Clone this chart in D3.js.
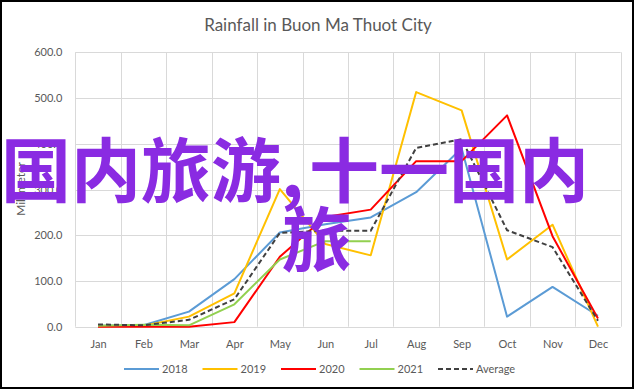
<!DOCTYPE html>
<html>
<head>
<meta charset="utf-8">
<script src="https://cdn.jsdelivr.net/npm/d3@7"></script>
<style>
  body { margin: 0; background: #fff; }
</style>
</head>
<body>
<div id="container"></div>
<script>

  // chart data (mm of rain per month)
  const months = ["Jan", "Feb", "Mar", "Apr", "May", "Jun", "Jul", "Aug", "Sep", "Oct", "Nov", "Dec"];
  const rain2018 = [2, 3, 33, 104, 206, 224, 239, 294, 390, 22, 87, 24];
  const rain2019 = [1, 2, 22, 73, 301, 181, 156, 513, 473, 147, 223, 0];
  const rain2020 = [0, 0, 0, 10, 153, 240, 256, 362, 362, 462, 198, 18];
  const rain2021 = [2, 4, 3, 49, 147, 187, 187, null, null, null, null, null];
  const rainAvg = [5, 3, 15, 60, 205, 210, 210, 391, 410, 211, 174, 13];
  const yTicks = [0, 100, 200, 300, 400, 500, 600];
  const overlayLines = ["国内旅游,", "十一国内", "旅"];

  const series = [
    { name: "2018", values: rain2018, color: "#5B9BD5", dash: null },
    { name: "2019", values: rain2019, color: "#FFC000", dash: null },
    { name: "2020", values: rain2020, color: "#FF0000", dash: null },
    { name: "2021", values: rain2021, color: "#92D050", dash: null },
    { name: "Average", values: rainAvg, color: "#404040", dash: "5,3" }
  ];

  const width = 638;
  const height = 392;
  const plot = { left: 75.3, right: 620.7, top: 52.3, bottom: 326.7 };
  const grey = "#595959";
  const font = "Lato, 'Open Sans', sans-serif";

  const svg = d3.create("svg")
      .attr("width", width)
      .attr("height", height);

  // outer frame
  svg.append("rect")
      .attr("x", 1)
      .attr("y", 1)
      .attr("width", 632)
      .attr("height", 387)
      .attr("fill", "#fff")
      .attr("stroke", "#000")
      .attr("stroke-width", 2);

  const x = d3.scalePoint()
      .domain(months)
      .range([plot.left, plot.right])
      .padding(0.5);

  const band = d3.scaleBand()
      .domain(months)
      .range([plot.left, plot.right]);

  const y = d3.scaleLinear()
      .domain([0, 600])
      .range([plot.bottom, plot.top]);

  // gridlines
  const grid = svg.append("g").attr("stroke", "#d9d9d9").attr("stroke-width", 1);
  grid.selectAll(".hgrid")
      .data(yTicks)
      .join("line")
      .attr("x1", plot.left)
      .attr("x2", plot.right)
      .attr("y1", d => Math.round(y(d)) + 0.5)
      .attr("y2", d => Math.round(y(d)) + 0.5);

  grid.selectAll(".vgrid")
      .data(months.concat(["end"]))
      .join("line")
      .attr("x1", (d, i) => Math.round(i < months.length ? band(d) : plot.right) + 0.5)
      .attr("x2", (d, i) => Math.round(i < months.length ? band(d) : plot.right) + 0.5)
      .attr("y1", plot.top)
      .attr("y2", plot.bottom);

  // y axis
  const yAxis = svg.append("g")
      .attr("transform", `translate(${plot.left - 10},0)`)
      .call(d3.axisLeft(y).tickValues(yTicks).tickFormat(d3.format(".1f")).tickSize(0));
  yAxis.select(".domain").remove();
  yAxis.selectAll("text")
      .attr("fill", grey)
      .attr("font-family", font)
      .attr("font-size", 11);

  // x axis
  const xAxis = svg.append("g")
      .attr("transform", `translate(0,${plot.bottom + 10})`)
      .call(d3.axisBottom(x).tickSize(0));
  xAxis.select(".domain").remove();
  xAxis.selectAll("text")
      .attr("fill", grey)
      .attr("font-family", font)
      .attr("font-size", 11);

  // title
  svg.append("text")
      .attr("x", 318)
      .attr("y", 31)
      .attr("text-anchor", "middle")
      .attr("fill", grey)
      .attr("font-family", font)
      .attr("font-size", 17)
      .text("Rainfall in Buon Ma Thuot City");

  // y axis title
  svg.append("text")
      .attr("transform", "translate(25,189) rotate(-90)")
      .attr("text-anchor", "middle")
      .attr("fill", grey)
      .attr("font-family", font)
      .attr("font-size", 12)
      .text("Millimeter");

  // lines
  const line = d3.line()
      .defined(d => d != null)
      .x((d, i) => x(months[i]))
      .y(d => y(d));

  svg.append("g")
      .selectAll("path")
      .data(series)
      .join("path")
      .attr("d", d => line(d.values))
      .attr("fill", "none")
      .attr("stroke", d => d.color)
      .attr("stroke-width", 2)
      .attr("stroke-dasharray", d => d.dash)
      .attr("stroke-linejoin", "round");

  // legend
  const legend = svg.append("g")
      .selectAll("g")
      .data(series)
      .join("g")
      .attr("transform", (d, i) => `translate(${124 + i * 78.5},369)`);

  legend.append("line")
      .attr("x1", 0)
      .attr("x2", 35)
      .attr("stroke", d => d.color)
      .attr("stroke-width", 2)
      .attr("stroke-dasharray", d => d.dash);

  legend.append("text")
      .attr("x", 38)
      .attr("dy", "0.35em")
      .attr("fill", grey)
      .attr("font-family", font)
      .attr("font-size", 11)
      .text(d => d.name);

  // big purple overlay text
  const overlay = svg.append("text")
      .attr("fill", "#8A2BE2")
      .attr("font-family", "'Noto Sans CJK SC', sans-serif")
      .attr("font-weight", "bold")
      .attr("font-size", 70);

  overlay.append("tspan").attr("x", 1).attr("y", 197).text(overlayLines[0]);
  overlay.append("tspan").attr("x", 309).attr("y", 197).text(overlayLines[1]);
  overlay.append("tspan").attr("x", 282).attr("y", 266).text(overlayLines[2]);

  container.append(svg.node());

</script>
</body>
</html>
